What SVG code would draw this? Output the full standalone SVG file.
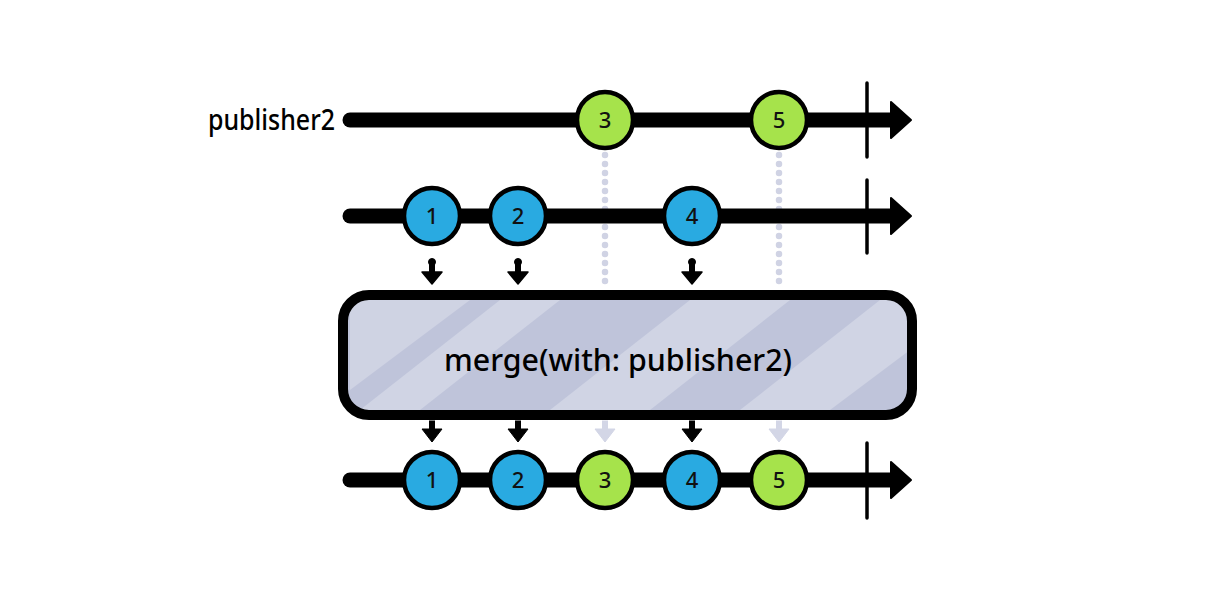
<svg xmlns="http://www.w3.org/2000/svg" width="1209" height="612" viewBox="0 0 1209 612">
<defs>
<style>
.tl{stroke:#000;stroke-width:15;stroke-linecap:round;fill:none}
.tick{stroke:#000;stroke-width:3.5;stroke-linecap:round}
.head{fill:#000;stroke:#000;stroke-width:2;stroke-linejoin:round}
.b{fill:#29aae1;stroke:#000;stroke-width:4.5}
.g{fill:#a6e34b;stroke:#000;stroke-width:4.5}
.n{font-family:"Noto Sans","DejaVu Sans",sans-serif;font-size:22px;font-weight:500;fill:#111;text-anchor:middle}
.lbl{font-family:"Noto Sans","DejaVu Sans",sans-serif;font-weight:500;fill:#000}
.dot{stroke:#d0d3e4;stroke-width:6.5;stroke-linecap:round;stroke-dasharray:0 9;fill:none}
</style>
<clipPath id="boxclip"><rect x="343" y="295" width="569" height="120" rx="26"/></clipPath>
<g id="darr"><circle cx="0" cy="0" r="3.5"/><rect x="-2.5" y="0" width="5" height="12"/><path d="M-10,10 L10,10 L0,22 Z" stroke-linejoin="round" stroke-width="1.5"/></g>
<g id="sarr"><rect x="-2.5" y="0" width="5" height="10"/><path d="M-10,8 L10,8 L0,21 Z"/></g>
</defs>
<rect width="1209" height="612" fill="#fff"/>

<g id="connectors">
<path class="dot" d="M605,155 V290"/>
<path class="dot" d="M779,155 V290"/>
<g fill="#d3d6e6" stroke="#d3d6e6">
<use href="#sarr" x="605" y="421"/>
<use href="#sarr" x="779" y="421"/>
</g>
<g fill="#000" stroke="#000">
<use href="#darr" x="432" y="262"/>
<use href="#darr" x="518" y="262"/>
<use href="#darr" x="692" y="262"/>
<use href="#sarr" x="432" y="421"/>
<use href="#sarr" x="518" y="421"/>
<use href="#sarr" x="692" y="421"/>
</g>
</g>

<g id="publisher2">
<text class="lbl" x="208" y="130" font-size="28" textLength="127" lengthAdjust="spacingAndGlyphs">publisher2</text>
<line class="tl" x1="350" y1="120" x2="895" y2="120"/>
<line class="tick" x1="867" y1="83" x2="867" y2="157"/>
<path class="head" d="M891,102 L911,120 L891,138 Z"/>
</g>
<g id="p2-3"><circle class="g" cx="605" cy="120" r="28"/><text class="n" x="605" y="128">3</text></g>
<g id="p2-5"><circle class="g" cx="779" cy="120" r="28"/><text class="n" x="779" y="128">5</text></g>

<g id="publisher1">
<line class="tl" x1="350" y1="216" x2="895" y2="216"/>
<line class="tick" x1="867" y1="180" x2="867" y2="253"/>
<path class="head" d="M891,198 L911,216 L891,234 Z"/>
</g>
<g id="p1-1"><circle class="b" cx="432" cy="216" r="28"/><text class="n" x="432" y="224">1</text></g>
<g id="p1-2"><circle class="b" cx="518" cy="216" r="28"/><text class="n" x="518" y="224">2</text></g>
<g id="p1-4"><circle class="b" cx="692" cy="216" r="28"/><text class="n" x="692" y="224">4</text></g>

<g id="operator">
<rect x="343" y="295" width="569" height="120" rx="26" fill="#bfc4da"/>
<g clip-path="url(#boxclip)" fill="#d0d4e4">
<path d="M350,300 L470,300 L350,390 Z" fill="#cfd3e3"/>
<path d="M500,300 L560,300 L420,410 L360,410 Z"/>
<path d="M690,300 L790,300 L650,410 L550,410 Z"/>
<path d="M880,300 L910,300 L910,350 L830,410 L740,410 Z"/>
</g>
<rect x="343" y="295" width="569" height="120" rx="26" fill="none" stroke="#000" stroke-width="10"/>
<text class="lbl" x="618" y="371" font-size="31" text-anchor="middle" textLength="348" lengthAdjust="spacingAndGlyphs">merge(with: publisher2)</text>
</g>

<g id="output">
<line class="tl" x1="350" y1="480" x2="895" y2="480"/>
<line class="tick" x1="867" y1="443" x2="867" y2="518"/>
<path class="head" d="M891,462 L911,480 L891,498 Z"/>
</g>
<g id="o-1"><circle class="b" cx="432" cy="480" r="28"/><text class="n" x="432" y="488">1</text></g>
<g id="o-2"><circle class="b" cx="518" cy="480" r="28"/><text class="n" x="518" y="488">2</text></g>
<g id="o-3"><circle class="g" cx="605" cy="480" r="28"/><text class="n" x="605" y="488">3</text></g>
<g id="o-4"><circle class="b" cx="692" cy="480" r="28"/><text class="n" x="692" y="488">4</text></g>
<g id="o-5"><circle class="g" cx="779" cy="480" r="28"/><text class="n" x="779" y="488">5</text></g>
</svg>
